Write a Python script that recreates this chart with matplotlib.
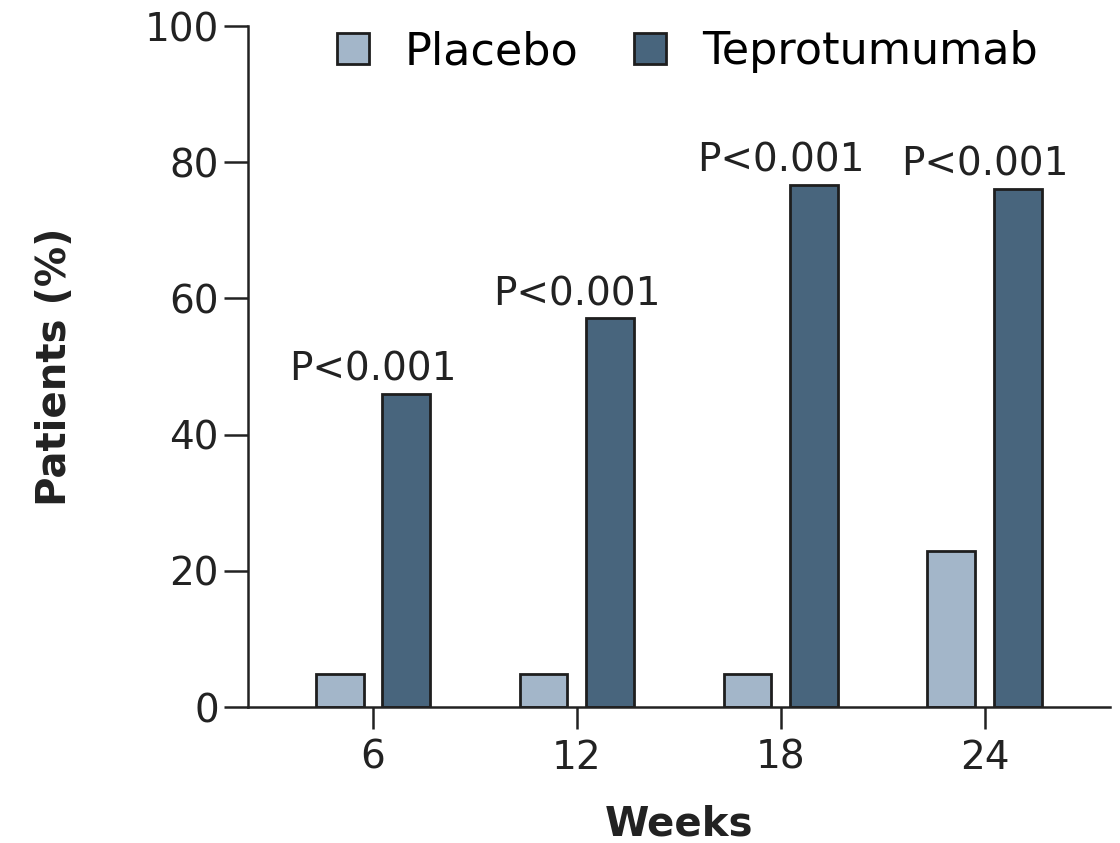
import numpy as np
import matplotlib.pyplot as plt
from matplotlib.patches import Patch

# data
weeks = ['6', '12', '18', '24']
placebo = [4.8, 4.8, 4.8, 22.9]
teprotumumab = [46.0, 57.1, 76.7, 76.1]
pvals = ['P<0.001', 'P<0.001', 'P<0.001', 'P<0.001']

c_plac = '#a3b6c9'
c_tep = '#48657d'
edge = '#1e1e1e'
txt = '#222222'

plt.rcParams['font.family'] = ['DejaVu Sans']

fig = plt.figure(figsize=(11.2, 8.43), dpi=100)
ax = fig.add_axes([0.2214, 0.1613, 0.7696, 0.8078])

x = np.arange(len(weeks))
w = 0.235
off = 0.164
ax.bar(x - off, placebo, w, color=c_plac, edgecolor=edge, linewidth=2)
ax.bar(x + off, teprotumumab, w, color=c_tep, edgecolor=edge, linewidth=2)

# p-value labels centred over each group
for i in range(len(weeks)):
	ax.text(x[i], teprotumumab[i] + 1.9, pvals[i], ha='center', va='baseline',
		fontsize=28, color=txt)

ax.set_xlim(-0.613, 3.613)
ax.set_ylim(0, 100)
ax.set_yticks([0, 20, 40, 60, 80, 100])
ax.set_xticks(x)
ax.set_xticklabels(weeks)

for s in ['top', 'right']:
	ax.spines[s].set_visible(False)
for s in ['left', 'bottom']:
	ax.spines[s].set_linewidth(1.8)
	ax.spines[s].set_color(txt)
ax.tick_params(axis='y', length=17, width=1.8, labelsize=28, pad=4, colors=txt)
ax.tick_params(axis='x', length=16, width=1.8, labelsize=28, pad=7, colors=txt)

ax.set_xlabel('Weeks', fontsize=29, fontweight='bold', labelpad=20, color=txt)
ax.set_ylabel('Patients (%)', fontsize=29, fontweight='bold', labelpad=50, color=txt)

handles = [Patch(facecolor=c_plac, edgecolor=edge, linewidth=2, label='Placebo'),
	Patch(facecolor=c_tep, edgecolor=edge, linewidth=2, label='Teprotumumab')]
ax.legend(handles=handles, loc='upper center', bbox_to_anchor=(0.51, 1.02), ncol=2,
	frameon=False, fontsize=32, handlelength=0.72, handleheight=0.68,
	handletextpad=0.8, columnspacing=1.25, borderaxespad=0)

fig.savefig('out.png', dpi=100)
